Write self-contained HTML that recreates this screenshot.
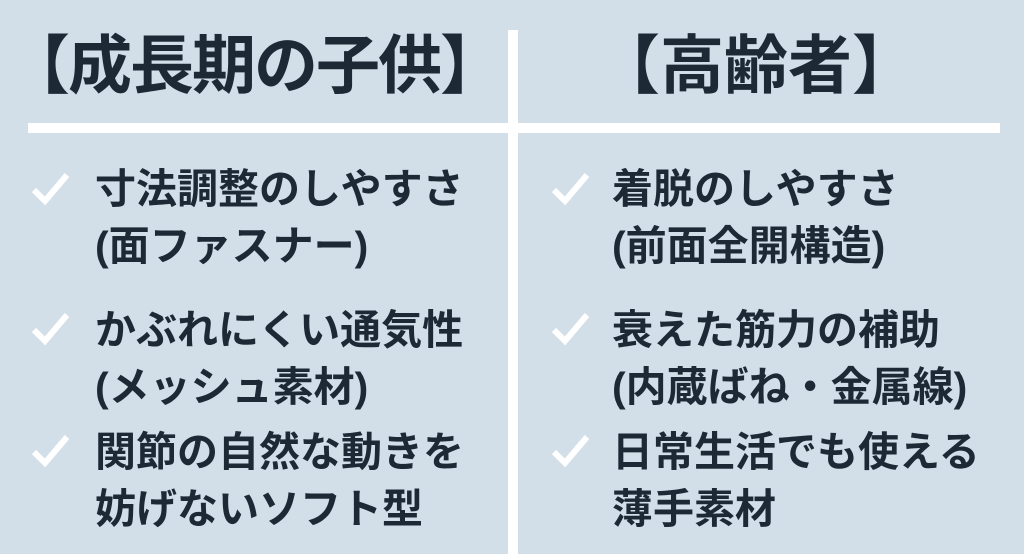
<!DOCTYPE html>
<html><head><meta charset="utf-8"><style>
body{margin:0;width:1024px;height:554px;background:#d3dfe8;overflow:hidden;position:relative;font-family:"Liberation Sans","Noto Sans CJK JP",sans-serif;color:#1e2936;font-weight:900}
.v{position:absolute;left:508px;top:30px;width:10px;height:524px;background:#fff}
.h{position:absolute;left:28px;top:123px;width:972px;height:10px;background:#fff}
.t{position:absolute;top:26px;font-size:64px;line-height:80px;white-space:nowrap;font-weight:700}
.it{position:absolute;font-size:41px;line-height:57px;white-space:nowrap;font-weight:700}
.ck{position:absolute;width:40px;height:40px}
</style></head><body>
<div class="v"></div><div class="h"></div>
<div class="t" style="left:6px;letter-spacing:-2px">【成長期の子供】</div>
<div class="t" style="left:596px">【高齢者】</div>
<svg class="ck" style="left:30px;top:168px" viewBox="0 0 40 40"><path d="M4 22 L15 33 L37 7" fill="none" stroke="#fff" stroke-width="6"/></svg>
<svg class="ck" style="left:30px;top:308px" viewBox="0 0 40 40"><path d="M4 22 L15 33 L37 7" fill="none" stroke="#fff" stroke-width="6"/></svg>
<svg class="ck" style="left:30px;top:430px" viewBox="0 0 40 40"><path d="M4 22 L15 33 L37 7" fill="none" stroke="#fff" stroke-width="6"/></svg>
<svg class="ck" style="left:550px;top:168px" viewBox="0 0 40 40"><path d="M4 22 L15 33 L37 7" fill="none" stroke="#fff" stroke-width="6"/></svg>
<svg class="ck" style="left:550px;top:308px" viewBox="0 0 40 40"><path d="M4 22 L15 33 L37 7" fill="none" stroke="#fff" stroke-width="6"/></svg>
<svg class="ck" style="left:550px;top:430px" viewBox="0 0 40 40"><path d="M4 22 L15 33 L37 7" fill="none" stroke="#fff" stroke-width="6"/></svg>
<div class="it" style="left:95px;top:161px">寸法調整のしやすさ<br>(面ファスナー)</div>
<div class="it" style="left:95px;top:302px">かぶれにくい通気性<br>(メッシュ素材)</div>
<div class="it" style="left:95px;top:424px">関節の自然な動きを<br>妨げないソフト型</div>
<div class="it" style="left:612px;top:161px">着脱のしやすさ<br>(前面全開構造)</div>
<div class="it" style="left:612px;top:302px">衰えた筋力の補助<br>(内蔵ばね・金属線)</div>
<div class="it" style="left:612px;top:424px">日常生活でも使える<br>薄手素材</div>
</body></html>
